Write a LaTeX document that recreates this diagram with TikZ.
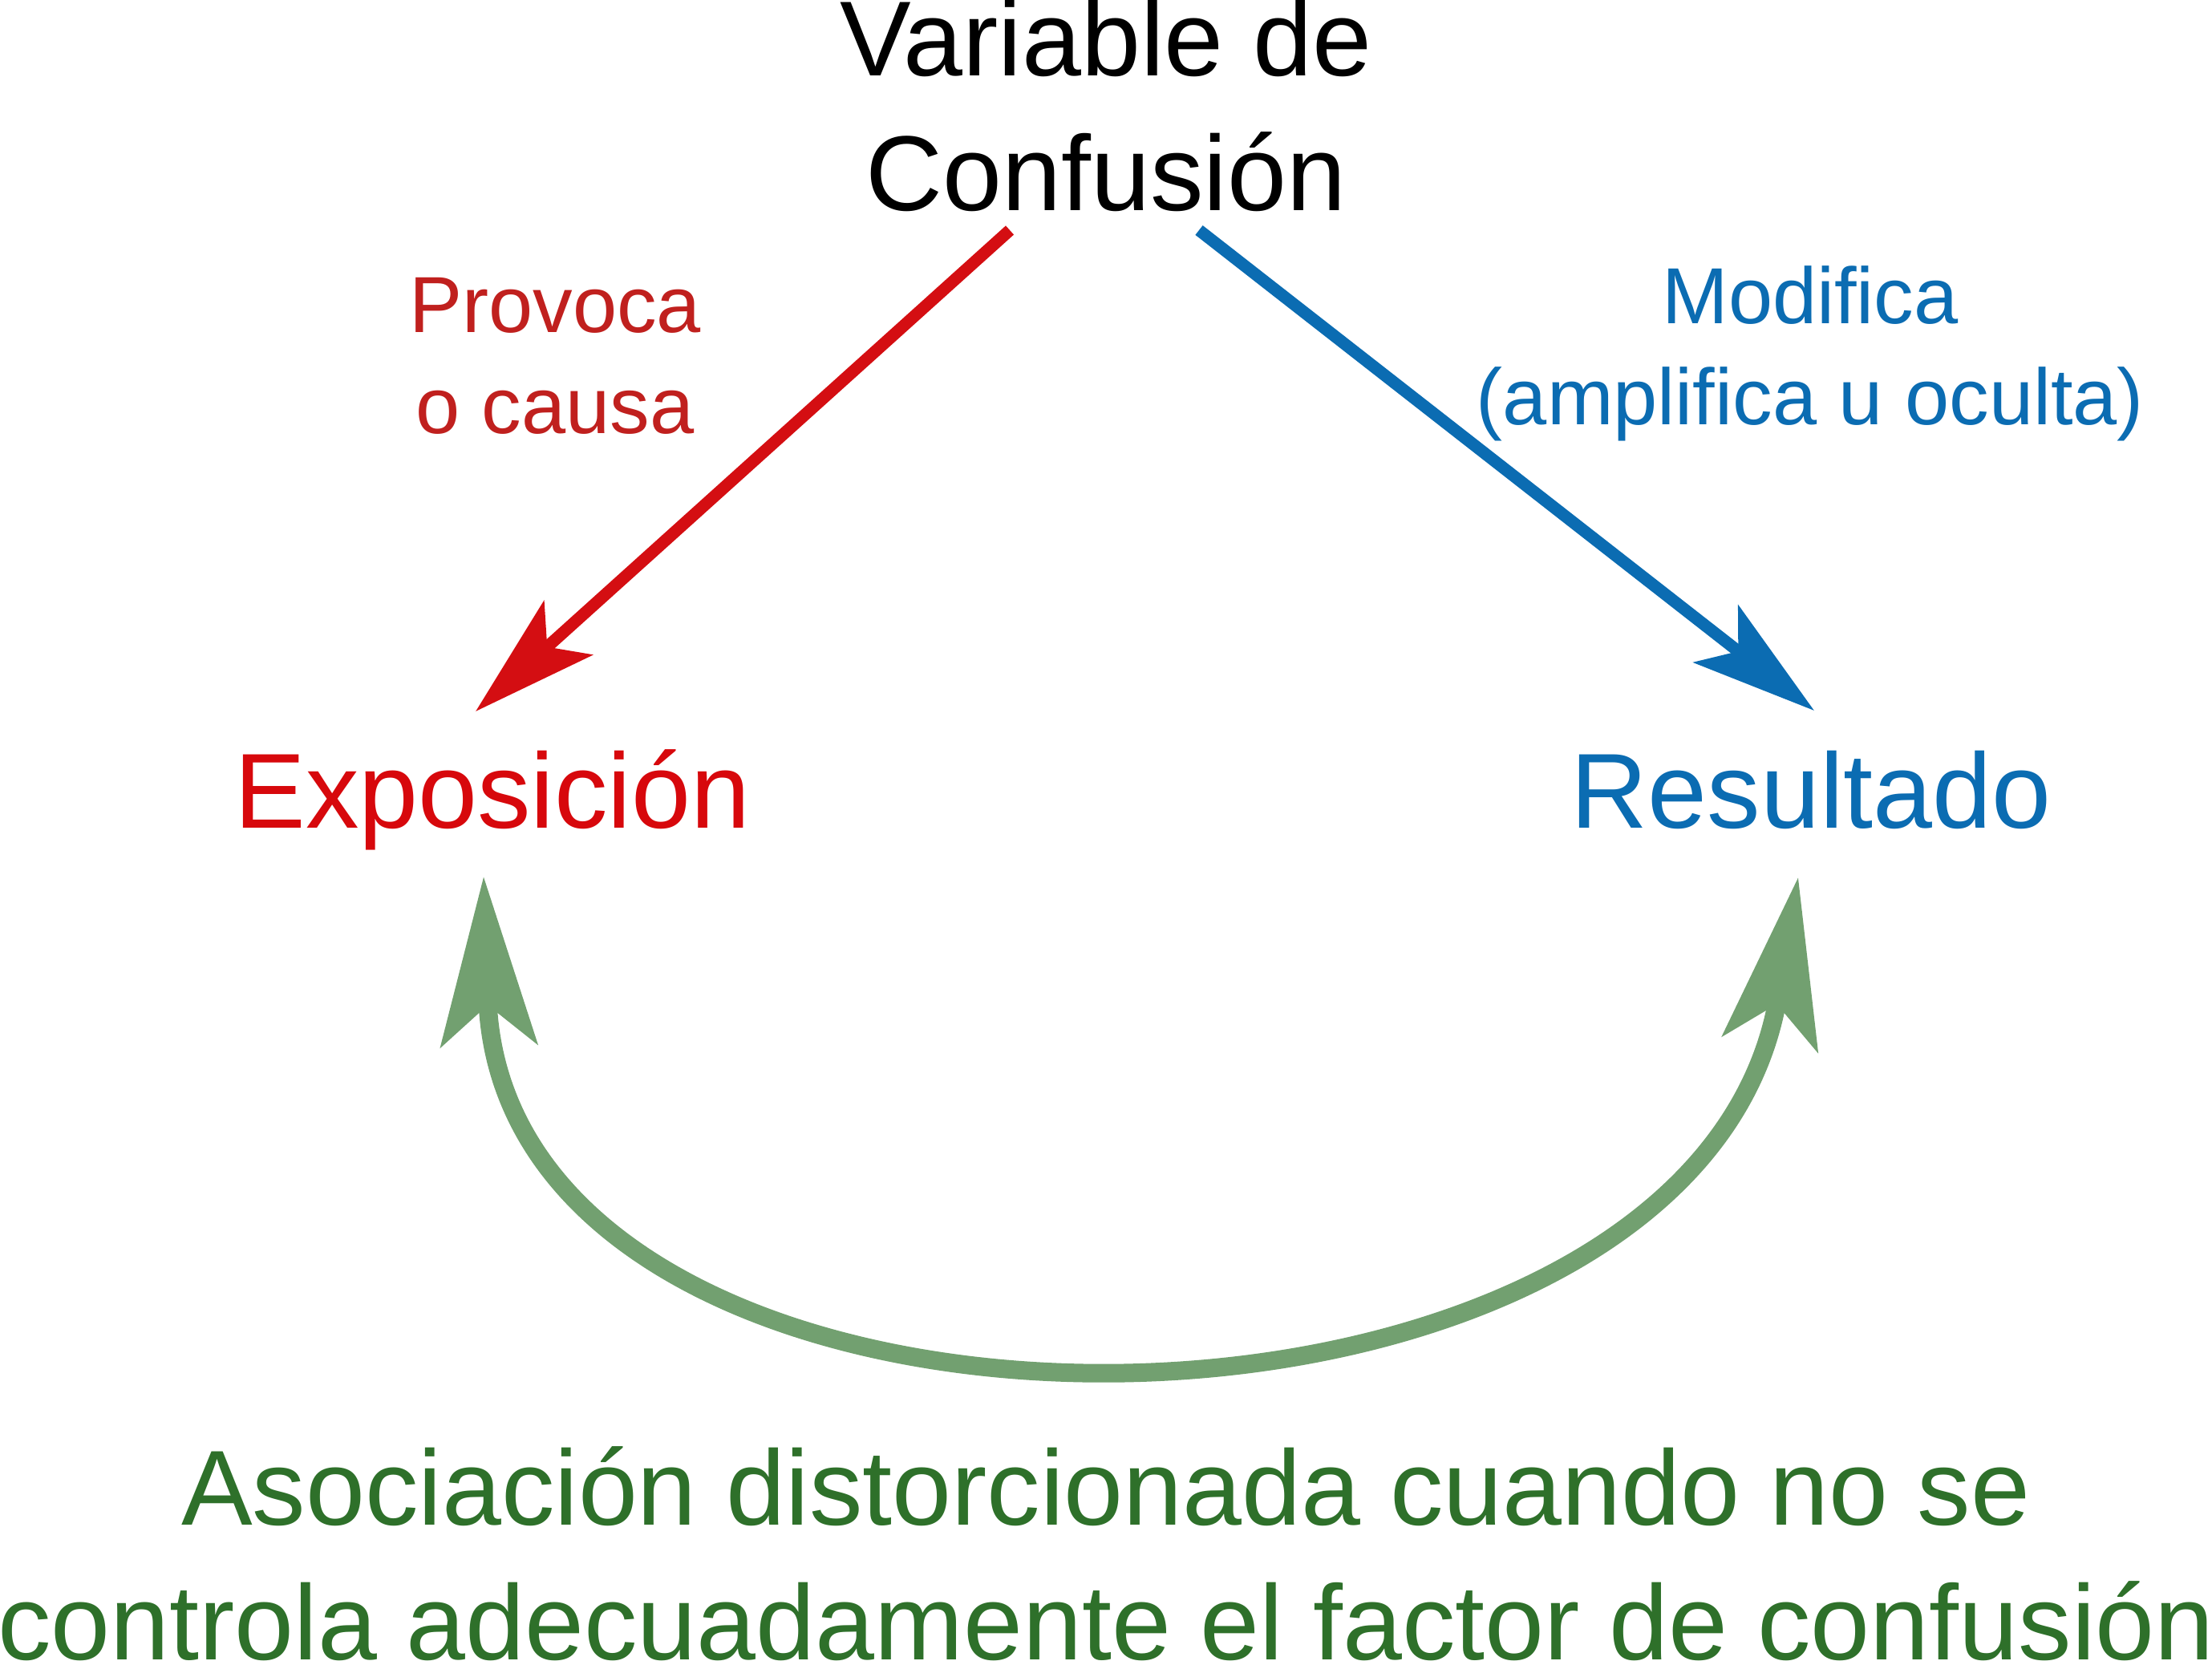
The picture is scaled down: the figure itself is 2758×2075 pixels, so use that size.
\documentclass[tikz,border=0pt]{standalone}
\usepackage{fontspec}
\setmainfont{Liberation Sans}
\usetikzlibrary{arrows.meta}
\definecolor{rojo}{RGB}{212,14,18}
\definecolor{rojotexto}{RGB}{192,32,30}
\definecolor{rojoexpo}{RGB}{215,8,12}
\definecolor{azul}{RGB}{11,108,178}
\definecolor{verde}{RGB}{114,160,112}
\definecolor{verdetexto}{RGB}{46,112,42}
\begin{document}
\begin{tikzpicture}[x=0.01cm, y=-0.01cm,
            grande/.style={font=\fontsize{37.8}{47.5}\selectfont, inner sep=0pt, align=center, anchor=base},
            chico/.style={font=\fontsize{28.2}{35.8}\selectfont, inner sep=0pt, align=center, anchor=base},
            flecha/.style={line width=0.15cm, -{Stealth[length=1.55cm, width=0.9cm, inset=0.35cm]}},
            curva/.style={line width=0.23cm, verde, {Stealth[length=2.1cm, width=1.2cm, inset=0.5cm]}-{Stealth[length=2.1cm, width=1.2cm, inset=0.5cm]}}]
            \useasboundingbox (0,0) rectangle (2758,2075);
            \node[grande] (conf) at (1379,262) {Variable de\\Confusión};
            \node[chico, rojotexto] (provoca) at (692,540) {Provoca\\o causa};
            \node[chico, azul] (modifica) at (2257,529) {Modifica\\(amplifica u oculta)};
            \node[grande, rojoexpo] (expo) at (614,1032) {Exposición};
            \node[grande, azul] (res) at (2258,1032) {Resultado};
            \node[grande, verdetexto] (asoc) at (1379,2069) {Asociación distorcionada cuando no se\\controla adecuadamente el factor de confusión};
            \draw[flecha, rojo] ([shift={(-120,23)}]conf.south) -- ([shift={(-21,-145)}]expo.base);
            \draw[flecha, azul] ([shift={(116,23)}]conf.south) -- ([shift={(4,-146)}]res.base);
            \draw[curva] ([shift={(-11,61)}]expo.base) .. controls +(25,780) and +(-130,770) .. ([shift={(-16,62)}]res.base);
        \end{tikzpicture}
\end{document}
